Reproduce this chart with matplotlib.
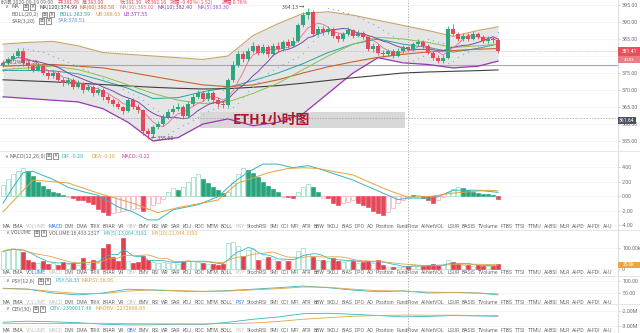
import numpy as np
import pandas as pd
import matplotlib
matplotlib.use("Agg")
import matplotlib.pyplot as plt
from matplotlib.patches import Rectangle
from matplotlib.lines import Line2D
from matplotlib import font_manager as fm

plt.rcParams['font.family'] = ['Noto Sans CJK SC', 'DejaVu Sans']
_names = {f.name for f in fm.fontManager.ttflist}
NARROW = 'Liberation Sans Narrow' if 'Liberation Sans Narrow' in _names else 'Roboto'

W, H = 640, 333

# ---------------- data ----------------
open_first = 377.5
close = [378.0, 379.0, 380.0, 381.5, 378.0, 377.0, 376.0, 377.0, 375.0, 374.0,
         375.0, 373.0, 372.0, 373.0, 371.0, 372.0, 370.0, 371.0, 369.0, 370.0,
         368.0, 367.0, 366.0, 365.0, 363.8, 367.0, 365.0, 364.0, 358.0, 357.0,
         359.0, 360.0, 362.0, 363.5, 364.5, 365.0, 362.5, 366.0, 368.0, 369.0,
         367.5, 369.0, 367.0, 366.0, 365.5, 373.0, 377.5, 380.5, 379.0, 381.5,
         383.0, 381.0, 382.5, 380.5, 383.0, 382.0, 384.0, 383.0, 384.5, 389.0,
         392.0, 393.0, 386.5, 388.0, 387.0, 388.0, 386.0, 385.0, 386.5, 387.5,
         386.0, 386.8, 385.5, 382.0, 383.0, 381.0, 380.5, 381.5, 380.0, 381.5,
         382.5, 382.0, 383.5, 384.0, 383.0, 381.0, 379.5, 378.5, 379.5, 388.0,
         386.5, 385.0, 386.0, 385.0, 386.5, 385.5, 384.5, 385.0, 384.6, 381.41]
high = [378.8, 379.6, 380.9, 382.3, 382.0, 378.7, 377.6, 377.8, 377.5, 375.8,
        375.9, 375.5, 373.8, 373.9, 373.4, 372.8, 372.5, 371.9, 371.4, 370.8,
        370.6, 368.9, 367.7, 366.8, 365.4, 367.6, 367.6, 365.8, 364.5, 358.9,
        359.8, 361.0, 362.8, 364.3, 365.6, 366.2, 365.6, 366.9, 368.9, 370.1,
        369.8, 369.9, 369.6, 367.8, 366.9, 373.6, 378.5, 381.8, 381.5, 382.4,
        384.0, 383.6, 383.4, 383.2, 383.8, 384.2, 384.8, 385.0, 385.6, 389.8,
        393.0, 394.13, 393.5, 388.9, 388.8, 388.9, 388.5, 386.7, 387.2, 388.4,
        388.0, 387.6, 387.3, 386.0, 383.9, 383.5, 381.8, 382.2, 382.0, 382.3,
        383.2, 383.0, 384.2, 384.9, 384.6, 383.5, 381.6, 380.2, 380.3, 388.8,
        389.5, 387.2, 386.8, 386.7, 387.3, 387.0, 386.1, 385.8, 385.7, 385.2]
low = [376.8, 377.5, 378.6, 379.6, 377.2, 376.3, 375.2, 375.5, 374.3, 373.2,
       373.6, 372.4, 371.2, 371.5, 370.3, 370.5, 369.2, 369.6, 368.3, 368.5,
       367.2, 366.3, 365.2, 364.3, 363.0, 363.5, 364.4, 363.2, 356.8, 355.6,
       356.3, 358.4, 359.5, 361.4, 362.8, 363.8, 361.8, 362.0, 365.4, 367.3,
       366.8, 366.9, 366.2, 365.1, 364.6, 365.0, 372.4, 376.8, 378.2, 378.5,
       380.8, 380.2, 380.5, 379.8, 380.0, 381.3, 381.5, 382.4, 382.6, 384.0,
       388.5, 391.0, 385.8, 385.9, 386.3, 386.4, 385.3, 384.2, 384.5, 385.9,
       385.4, 385.5, 384.9, 381.6, 381.3, 380.4, 379.6, 379.9, 379.4, 379.6,
       380.9, 381.2, 381.6, 382.8, 382.3, 380.5, 378.9, 377.8, 377.9, 379.0,
       385.8, 384.3, 384.5, 384.4, 384.6, 384.9, 383.9, 383.9, 383.8, 381.0]
sar = [375.5, 376.0, 376.5, 377.0,
       382.3, 382.2, 381.9, 381.6, 381.2, 380.7, 380.1, 379.5, 378.9, 378.3, 377.7, 377.0,
       376.3, 375.6, 375.0, 374.3, 373.6, 372.8, 372.0, 371.2, 370.3, 369.5, 368.8, 368.0,
       367.2, 366.0, 364.8, 363.8,
       356.2, 357.0, 357.9, 358.8, 359.6, 360.3, 361.2, 362.2, 363.0, 363.7, 364.3, 364.8,
       370.1,
       364.6,
       364.9, 366.3, 368.0, 369.6, 371.0, 372.5, 373.8, 374.9, 375.9, 376.8, 377.6, 378.3, 379.0,
       379.8, 381.0, 382.6,
       384.5, 385.5, 386.2,
       394.1, 393.8, 393.4, 393.0, 392.5, 392.0, 391.4, 390.8, 390.1, 389.3, 388.5, 387.6,
       386.7, 385.9, 385.0,
       378.2, 378.5, 378.9, 379.4, 380.0,
       384.9, 384.6, 384.2, 383.8,
       378.0, 378.6, 379.6, 380.5, 381.3, 382.0, 382.6, 383.1, 383.4, 383.6,
       387.0]
volume_k = [85, 95, 100, 90, 81, 45, 35, 30, 40, 25,
            30, 20, 35, 25, 30, 20, 52, 25, 45, 30,
            100, 120, 55, 40, 148, 40, 30, 35, 60, 45,
            35, 30, 35, 30, 35, 25, 40, 45, 40, 35,
            30, 25, 25, 20, 25, 124, 130, 110, 60, 90,
            95, 45, 50, 55, 50, 40, 45, 40, 50, 85,
            100, 70, 58, 45, 43, 40, 52, 40, 35, 38,
            38, 30, 33, 38, 30, 45, 18, 12, 10, 11,
            12, 16.4, 18, 16, 16, 20, 22, 18, 20, 43,
            33, 22, 18, 20, 15, 18, 16, 14, 16, 25]
macd_hist = [1.5, 2.3, 3.0, 3.5, 3.8, 3.4, 2.8, 2.0, 1.4, 0.9,
             0.5, 0.4, 0.2, -0.1, -0.3, -0.5, -0.6, -0.8, -1.1, -1.8,
             -2.2, -2.6, -2.4, -2.2, -2.1, -1.9, -1.8, -1.6, -2.0, -1.8,
             -1.3, -0.9, -0.4, 0.6, 1.1, 0.8, 1.2, 1.9, 2.6, 3.1,
             2.4, 1.8, 1.2, 0.8, 0.4, 0.6, 1.8, 3.0, 3.9, 3.6,
             3.2, 2.6, 2.0, 1.4, 0.9, 0.5, -0.1, -0.2, -0.3, 0.6,
             1.2, 1.7, 1.3, 0.6, -0.3, -0.3, -0.9, -1.2, -1.0, -0.8,
             -0.6, -1.0, -1.3, -1.5, -2.0, -2.3, -2.6, -2.2, -1.6, -1.0,
             -0.5, -0.22, 0.1, 0.2, -0.3, -0.6, -0.9, -0.5, -0.2, 0.5,
             0.9, 1.2, 1.1, 0.8, 0.6, 0.4, 0.3, 0.25, 0.15, -0.35]

samp = [0, 5, 10, 15, 20, 25, 30, 35, 40, 45, 50, 55, 60, 65, 70, 75, 80, 85, 90, 95, 99]
boll_ub = [383.5, 384.0, 384.3, 383.0, 381.0, 380.5, 380.0, 379.5, 379.0, 380.0, 386.0,
           389.5, 392.5, 393.0, 392.0, 390.5, 389.0, 387.5, 385.8, 387.5, 388.6]
boll_lb = [368.0, 367.5, 367.0, 366.5, 364.5, 360.5, 355.0, 356.0, 360.0, 361.5, 359.5,
           360.5, 363.0, 369.0, 375.0, 379.5, 378.0, 377.5, 376.5, 377.0, 378.5]
ma30 = [376.0, 376.5, 377.0, 376.0, 374.0, 371.5, 369.0, 367.0, 366.0, 366.5, 369.0,
        372.0, 376.0, 380.0, 383.5, 385.5, 385.0, 384.0, 382.5, 383.0, 383.5]
ma60 = [377.0, 377.3, 377.5, 377.0, 376.5, 375.3, 374.0, 372.7, 371.5, 371.0, 371.5,
        373.0, 375.0, 376.8, 378.3, 379.6, 380.5, 381.2, 381.6, 382.0, 382.2]
ma120 = [373.0, 372.7, 372.4, 372.0, 371.6, 371.2, 370.8, 370.5, 370.3, 370.4, 370.8,
         371.3, 372.0, 372.8, 373.6, 374.3, 375.0, 375.3, 375.5, 375.7, 375.9]

dif_i = [0, 2, 4, 6, 10, 13, 16, 19, 23, 26, 29, 31, 34, 39, 43, 46, 49, 52, 55, 58,
         61, 63, 70, 77, 79, 81, 85, 87, 90, 95, 99]
dif_v = [-1.0, 1.2, 3.2, 3.4, 2.3, 1.2, 0.6, 0.1, -1.5, -2.2, -3.3, -3.3, -1.9, -1.2, -0.1,
         1.8, 3.3, 4.4, 4.4, 3.9, 4.2, 3.8, 2.2, 0.1, -0.5, -0.28, -0.3, -0.1, 0.8, 0.8, 0.5]
dea_i = [0, 6, 13, 19, 26, 31, 35, 43, 47, 53, 57, 60, 63, 66, 70, 77, 81, 85, 90, 97, 99]
dea_v = [-2.2, 2.2, 1.8, 0.4, -1.0, -2.3, -1.6, -0.55, 1.8, 3.2, 3.8, 3.9, 3.8, 3.4, 2.9,
         0.8, -0.16, -0.1, 0.4, 0.8, 0.7]

psy = [70, 66, 50, 42, 50, 66, 62, 58, 56, 60, 66, 72, 79, 72, 62, 55, 59, 50, 52, 50, 42]
mapsy = [68, 66, 56, 48, 48, 58, 63, 60, 57, 58, 63, 68, 75, 74, 66, 60, 58, 54, 52, 50, 46]
obv_m = [-2.75, -2.68, -2.72, -2.78, -2.88, -2.93, -2.92, -2.88, -2.90, -2.75, -2.55,
         -2.40, -2.18, -2.15, -2.22, -2.30, -2.39, -2.36, -2.30, -2.33, -2.35]
maobv_m = [-2.85, -2.84, -2.83, -2.83, -2.82, -2.84, -2.85, -2.86, -2.86, -2.84, -2.80,
           -2.70, -2.55, -2.45, -2.35, -2.30, -2.27, -2.28, -2.28, -2.30, -2.31]

cross_idx = 81
cross_price = 361.64
last_price = 381.41
fib_level = 377.35

TABS = ["MA", "EMA", "VOLUME", "MACD", "DMI", "DMA", "TRIX", "BRAR", "VR", "OBV", "EMV",
        "RSI", "WR", "SAR", "KDJ", "ROC", "MTM", "BOLL", "PSY", "StochRSI", "SMI", "CCI",
        "MFI", "ATR", "BBW", "SKDJ", "BIAS", "DPO", "AO", "Position", "FundFlow",
        "AI-NetVOL", "LSUR", "BASIS", "TVolume", "FTBS", "TTSI", "TTMU", "AI-BSI", "MLR",
        "AI-PD", "AI-FDI", "AI-U"]

# ---------------- colours ----------------
UP, DN = '#2fa67c', '#e5485a'
C_MA5, C_MA10, C_MA30, C_MA60, C_MA120 = '#e56f9c', '#7b46b0', '#8cc152', '#c8642a', '#404040'
C_MID, C_UB, C_LB = '#26a69a', '#c9a46a', '#9b36b7'
C_SAR = '#8fb0dd'
C_TEAL, C_ORG = '#35b5c0', '#e3a33f'
GRAY = '#666666'

fig = plt.figure(figsize=(W / 100, H / 100), dpi=100)
fig.patch.set_facecolor('white')


def rect(x0, y0, x1, y1):
    return [x0 / W, 1 - y1 / H, (x1 - x0) / W, (y1 - y0) / H]


PLOT_R = 618
XL = (-0.6, (PLOT_R - 3) / 5)

ax_main = fig.add_axes(rect(0, 0, PLOT_R, 151))
ax_macd = fig.add_axes(rect(0, 151, PLOT_R, 230))
ax_vol = fig.add_axes(rect(0, 230, PLOT_R, 276))
ax_psy = fig.add_axes(rect(0, 276, PLOT_R, 304))
ax_obv = fig.add_axes(rect(0, 304, PLOT_R, 333))
axes = [ax_main, ax_macd, ax_vol, ax_psy, ax_obv]

for ax in axes:
    ax.set_xlim(XL)
    ax.set_xticks([])
    for s in ['top', 'left', 'bottom']:
        ax.spines[s].set_visible(False)
    ax.spines['right'].set_color('#d6d6d6')
    ax.spines['right'].set_linewidth(0.6)
    ax.yaxis.tick_right()
    ax.tick_params(axis='y', labelsize=3.9, labelcolor='#707070', color='#c0c0c0',
                   length=1.6, width=0.5, pad=1.4)
    ax.grid(axis='y', color='#f1f1f1', lw=0.5)
    ax.set_axisbelow(True)
    ax.axvline(cross_idx, color='#9a9a9a', lw=0.5, ls=(0, (2, 2)), zorder=6)


def set_ticks(ax, vals, labels):
    ax.set_yticks(vals)
    ax.set_yticklabels(labels, fontfamily=NARROW, fontsize=3.9, color='#707070')


xi = np.arange(len(close))
opens = np.array([open_first] + close[:-1])
c_arr = np.array(close)
up = c_arr >= opens
cols = np.where(up, UP, DN)

# ---------------- main panel ----------------
ax_main.set_ylim(352.06, 396.47)
set_ticks(ax_main, [355, 360, 365, 370, 375, 380, 385, 390, 395],
          ['355.00', '360.00', '365.00', '370.00', '375.00', '380.00', '385.00', '390.00', '395.00'])

ax_main.fill_between(samp, boll_lb, boll_ub, color='#e5e5e5', lw=0, zorder=1)
ax_main.plot(samp, boll_ub, color=C_UB, lw=0.8, zorder=3)
ax_main.plot(samp, boll_lb, color=C_LB, lw=0.9, zorder=3)
mid = (np.array(boll_ub) + np.array(boll_lb)) / 2
ax_main.plot(samp, mid, color=C_MID, lw=0.7, zorder=3)
ax_main.axhline(fib_level, color='#a79fd6', lw=0.8, zorder=2)

# watermark band + title
ax_main.add_patch(Rectangle((39.4, 358.8), 41.0, 4.7, facecolor='#d8d8d8', edgecolor='none', zorder=2.5))

ma5 = pd.Series(close).rolling(5, min_periods=1).mean()
ma10 = pd.Series(close).rolling(10, min_periods=1).mean()
ax_main.plot(samp, ma120, color=C_MA120, lw=0.8, zorder=3)
ax_main.plot(samp, ma60, color=C_MA60, lw=0.8, zorder=3)
ax_main.plot(samp, ma30, color=C_MA30, lw=0.7, zorder=3)
ax_main.plot(xi, ma10, color=C_MA10, lw=0.7, zorder=3)
ax_main.plot(xi, ma5, color=C_MA5, lw=0.6, zorder=3)

ax_main.vlines(xi, low, high, colors=cols, lw=0.6, zorder=4)
body_bot = np.minimum(opens, c_arr)
body_h = np.maximum(np.abs(c_arr - opens), 0.12)
ax_main.bar(xi, body_h, bottom=body_bot, width=0.62, color=cols, lw=0, zorder=5)
ax_main.scatter(xi, sar, s=0.9, color=C_SAR, zorder=4.5, lw=0)

ax_main.axhline(last_price, color='#aaaaaa', lw=0.5, ls=(0, (1, 1.5)), zorder=6)
ax_main.axhline(cross_price, color='#9a9a9a', lw=0.5, ls=(0, (2, 2)), zorder=6)

ax_main.text(60.3, 394.13, '394.13 →', ha='right', va='center', fontsize=3.8, color='#555', zorder=7)
ax_main.text(29.6, 355.6, '← 355.60', ha='left', va='center', fontsize=3.8, color='#555', zorder=7)
ax_main.text(46, 361.1, 'ETH1小时图', ha='left', va='center', fontsize=10, fontweight='bold',
             color='#b0182a', family=['Noto Sans CJK SC', 'DejaVu Sans'], zorder=7)


def ftxt(x, y, s, color=GRAY, size=3.9, **kw):
    return fig.text(x / W, 1 - y / H, s, color=color, fontsize=size, va='center', **kw)


def fbox(x0, y0, x1, y1, fc):
    fig.add_artist(Rectangle((x0 / W, 1 - y1 / H), (x1 - x0) / W, (y1 - y0) / H,
                             transform=fig.transFigure, facecolor=fc, edgecolor='none', zorder=10))


def icons(x, y):
    for k, g in enumerate(['≡', '×']):
        x0 = x + k * 6.5
        fig.add_artist(Rectangle((x0 / W, 1 - (y + 2.6) / H), 5 / W, 5.2 / H, transform=fig.transFigure,
                                 facecolor='white', edgecolor='#6a6a6a', lw=0.5, zorder=10))
        fig.text((x0 + 2.5) / W, 1 - y / H, g, fontsize=3.4, color='#444', ha='center', va='center',
                 family='DejaVu Sans', zorder=11)


ftxt(38, 62, '38.2% 377.35', color='#555', size=3.6, ha='right')

# header rows of main panel
ftxt(1, 2, '时间:2020-09-19 09:00', size=3.7)
ftxt(58, 2, '开:381.76', color=DN, size=3.7)
ftxt(82, 2, '高:383.00', color=DN, size=3.7)
ftxt(120, 2, '低:381.30', color=DN, size=3.7)
ftxt(145, 2, '收:382.16', color=DN, size=3.7)
ftxt(170, 2, '涨幅:-0.40%(-1.52)', color=DN, size=3.7)
ftxt(222, 2, '振幅:0.76%', color=DN, size=3.7)

ftxt(4, 7, '∨', size=3.6, family='DejaVu Sans')
ftxt(12, 7, 'MA', size=3.9)
icons(23, 7)
ftxt(39, 7, 'MA(120):374.99', color=C_MA120)
ftxt(80, 7, 'MA(60):380.58', color=C_MA60)
ftxt(120, 7, 'MA(30):385.02', color='#e070a0')
ftxt(158, 7, 'MA(10):382.40', color=C_MA10)
ftxt(197, 7, 'MA(5):383.30', color='#9a58d8')

ftxt(12, 14.5, 'BOLL(20,2)')
icons(42, 14.5)
ftxt(60, 14.5, 'BOLL:383.59', color=C_MID)
ftxt(95, 14.5, 'UB:388.65', color='#d9953f')
ftxt(123, 14.5, 'LB:377.55', color=C_LB)

ftxt(12, 21, 'SAR(3,20)')
icons(39, 21)
ftxt(58, 21, 'SAR:378.51', color='#5f8fd0')

# price boxes on right axis
fbox(PLOT_R, 47.5, 640, 56, '#e5505c')
ftxt(629, 51.6, f'{last_price:.2f}', color='white', size=3.6, ha='center', zorder=11, family=NARROW)
fbox(PLOT_R, 56, 640, 62.5, '#ec7c84')
ftxt(629, 59.6, '40:03', color='white', size=3.1, ha='center', zorder=11, family=NARROW)
fbox(PLOT_R, 116.5, 636, 123.5, '#4d5261')
ftxt(627, 120, f'{cross_price:.2f}', color='white', size=3.6, ha='center', zorder=11, family=NARROW)

# ---------------- MACD ----------------
ax_macd.set_ylim(-4.69, 6.21)
set_ticks(ax_macd, [-4, -2, 0, 2, 4], ['-4.00', '-2.00', '0.00', '2.00', '4.00'])
hist = np.array(macd_hist)
prev = np.concatenate([[0.0], hist[:-1]])
grow = np.abs(hist) >= np.abs(prev)
fc, ec = [], []
for v, g in zip(hist, grow):
    if v >= 0:
        fc.append('white' if g else '#26a47c')
        ec.append('#86d3b6' if g else '#26a47c')
    else:
        fc.append(DN if g else 'white')
        ec.append(DN if g else '#f2a3ae')
ax_macd.bar(xi, hist, width=0.62, color=fc, edgecolor=ec, lw=0.45, zorder=3)
ax_macd.plot(dif_i, dif_v, color=C_TEAL, lw=0.7, zorder=4)
ax_macd.plot(dea_i, dea_v, color=C_ORG, lw=0.7, zorder=4)

ftxt(4, 156, '∨', size=3.6, family='DejaVu Sans')
ftxt(10, 156, 'MACD(12,26,9)')
icons(46, 156)
ftxt(62, 156, 'DIF:-0.28', color=C_TEAL)
ftxt(92, 156, 'DEA:-0.16', color=C_ORG)
ftxt(122, 156, 'MACD:-0.22', color='#d0409a')

# ---------------- Volume ----------------
ax_vol.set_ylim(-33, 185.7)
set_ticks(ax_vol, [0, 100], ['0', '100.00k'])
vfc = np.where(up, 'white', '#e0404f')
vec = np.where(up, '#8fd3bd', '#e0404f')
ax_vol.bar(xi, volume_k, width=0.62, color=vfc, edgecolor=vec, lw=0.45, zorder=3)
vma5 = pd.Series(volume_k).rolling(5, min_periods=1).mean()
vma10 = pd.Series(volume_k).rolling(10, min_periods=1).mean()
ax_vol.plot(xi, vma5, color=C_TEAL, lw=0.6, zorder=4)
ax_vol.plot(xi, vma10, color=C_ORG, lw=0.6, zorder=4)
ftxt(5, 233, '∨', size=3.6, family='DejaVu Sans')
ftxt(11, 233, 'VOLUME', size=3.6)
icons(34, 233)
ftxt(49, 233, 'VOLUME:16,433.2317', size=3.7)
ftxt(104, 233, 'MA(5):13,064.3182', color=C_TEAL, size=3.7)
ftxt(151, 233, 'MA(10):21,044.3391', color=C_ORG, size=3.7)
fbox(PLOT_R, 261.5, 640, 267.5, '#f0a53c')
ftxt(629, 264.5, '25.0k', color='white', size=3.4, ha='center', zorder=11, family=NARROW)

# ---------------- PSY ----------------
ax_psy.set_ylim(4.2, 120.8)
set_ticks(ax_psy, [50, 100], ['50.00', '100.00'])
ax_psy.plot(samp, psy, color=C_TEAL, lw=0.6, zorder=4)
ax_psy.plot(samp, mapsy, color=C_ORG, lw=0.6, zorder=4)
ftxt(5, 281, '∨', size=3.6, family='DejaVu Sans')
ftxt(12, 281, 'PSY(12,6)')
icons(38, 281)
ftxt(55, 281, 'PSY:58.33', color=C_TEAL)
ftxt(82, 281, 'MAPSY:58.06', color=C_ORG)

# ---------------- OBV ----------------
ax_obv.set_ylim(-3.467, -1.533)
set_ticks(ax_obv, [-3, -2], ['-3.00M', '-2.00M'])
ax_obv.plot(samp, obv_m, color=C_TEAL, lw=0.6, zorder=4)
ax_obv.plot(samp, maobv_m, color=C_ORG, lw=0.6, zorder=4)
ftxt(5, 309, '∨', size=3.6, family='DejaVu Sans')
ftxt(12, 309, 'OBV(30)')
icons(33, 309)
ftxt(50, 309, 'OBV:-2390017.48', color=C_TEAL)
ftxt(96, 309, 'MAOBV:-2272868.83', color=C_ORG)

# panel separators
for yy in [151, 230, 276, 304]:
    fig.add_artist(Line2D([0, 1], [1 - yy / H] * 2, color='#e2e2e2', lw=0.6, transform=fig.transFigure))

# indicator tab rows
renderer = fig.canvas.get_renderer()


def tab_row(y, active, dim):
    ts, ws = [], []
    for lab in TABS:
        col = '#3b7ddd' if lab == active else ('#c6c6c6' if lab in dim else '#6e6e6e')
        t = fig.text(0, 1 - y / H, lab, fontsize=3.7, family=NARROW, color=col, va='center', zorder=9)
        ts.append(t)
        ws.append(t.get_window_extent(renderer).width)
    gap = (603 - 3 - sum(ws[:-1])) / (len(TABS) - 1)
    x = 3.0
    for t, w in zip(ts, ws):
        t.set_x(x / W)
        x += w + gap


tab_row(226, 'MACD', ['VOLUME', 'OBV', 'PSY'])
tab_row(272, 'VOLUME', ['MACD', 'OBV', 'PSY'])
tab_row(302.5, 'PSY', ['VOLUME', 'MACD', 'OBV'])
tab_row(330.5, 'OBV', ['VOLUME', 'MACD', 'PSY'])

fig.savefig('out.png', dpi=100)
